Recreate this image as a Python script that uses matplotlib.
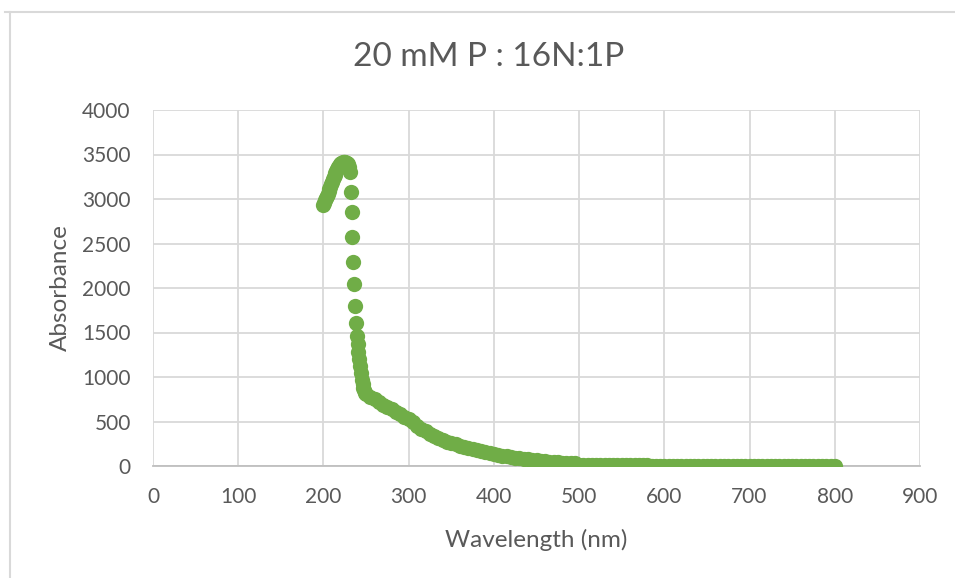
import numpy as np
import matplotlib.pyplot as plt
from matplotlib.lines import Line2D

# wavelength (nm) and absorbance
wl_peak = [200, 201, 202, 203, 204, 205, 206, 207, 208, 209, 210, 211, 212, 213, 214,
           215, 216, 217, 218, 219, 220, 221, 222, 223, 224, 225, 226, 227, 228, 229,
           230, 231, 232, 233, 234, 235, 236, 237, 238, 239, 240, 241, 242, 243, 244,
           245, 246, 247, 248, 249]
abs_peak = [2930, 2955, 2985, 3010, 3035, 3060, 3085, 3110, 3140, 3170, 3195, 3220, 3245,
            3270, 3295, 3320, 3340, 3360, 3375, 3385, 3395, 3405, 3410, 3415, 3415, 3415,
            3410, 3405, 3400, 3390, 3360, 3300, 3080, 2850, 2570, 2290, 2050, 1800, 1610,
            1465, 1370, 1280, 1200, 1120, 1040, 970, 920, 880, 850, 825]

wl_tail = [250, 255, 260, 265, 270, 275, 280, 285, 290, 295, 300, 305, 310, 315, 320,
           325, 330, 335, 340, 345, 350, 355, 360, 365, 370, 375, 380, 385, 390, 395,
           400, 405, 410, 415, 420, 425, 430, 435, 440, 445, 450, 455, 460, 465, 470,
           475, 480, 485, 490, 495, 500, 505, 510, 515, 520, 525, 530, 535, 540, 545,
           550, 555, 560, 565, 570, 575, 580, 585, 590, 595, 600, 605, 610, 615, 620,
           625, 630, 635, 640, 645, 650, 655, 660, 665, 670, 675, 680, 685, 690, 695,
           700, 705, 710, 715, 720, 725, 730, 735, 740, 745, 750, 755, 760, 765, 770,
           775, 780, 785, 790, 795, 800]
abs_tail = [810, 780, 750, 715, 690, 663, 635, 605, 580, 555, 525, 490, 455, 420, 395,
            365, 337, 315, 295, 275, 258, 243, 230, 215, 200, 187, 175, 163, 152, 142,
            133, 124, 115, 107, 100, 94, 88, 82, 77, 72, 66, 60, 55, 50, 46,
            42, 38, 35, 32, 29, 12, 11, 11, 10, 10, 10, 9, 9, 9, 8,
            8, 8, 8, 7, 7, 7, 7, 3, 3, 3, 3, 3, 3, 3, 3,
            2, 2, 2, 2, 2, 2, 2, 2, 2, 2, 2, 2, 2, 2, 2,
            2, 2, 2, 2, 2, 1, 1, 1, 1, 1, 1, 1, 1, 1, 1,
            1, 1, 1, 1, 1, 1]

wl = np.array(wl_peak + wl_tail)
absorb = np.array(abs_peak + abs_tail)

x_ticks = [0, 100, 200, 300, 400, 500, 600, 700, 800, 900]
y_ticks = [0, 500, 1000, 1500, 2000, 2500, 3000, 3500, 4000]

txt = '#595959'
grid = '#d9d9d9'
green = '#70ad47'
plt.rcParams['font.family'] = ['Lato', 'DejaVu Sans']

fig = plt.figure(figsize=(9.55, 5.78), dpi=100)
ax = fig.add_axes([153 / 955, 1 - 466 / 578, 767 / 955, 356 / 578])

ax.plot(wl, absorb, 'o', color=green, markersize=11, markeredgewidth=0, zorder=3)

ax.set_xlim(0, 900)
ax.set_ylim(0, 4000)
ax.set_xticks(x_ticks)
ax.set_yticks(y_ticks)
ax.grid(True, color=grid, linewidth=1.3)
ax.set_axisbelow(True)
for s in ['top', 'right', 'left']:
    ax.spines[s].set_visible(False)
ax.spines['bottom'].set_color('#bfbfbf')
ax.spines['bottom'].set_linewidth(1.3)
ax.tick_params(length=0, labelsize=15, colors=txt)
ax.tick_params(axis='y', pad=16)
ax.tick_params(axis='x', pad=15)

ax.set_xlabel('Wavelength (nm)', fontsize=17.5, color=txt)
ax.set_ylabel('Absorbance', fontsize=17.5, color=txt)
ax.xaxis.set_label_coords(0.5, -0.177)
ax.yaxis.set_label_coords(-0.107, 0.5)

fig.text(0.5115, 1 - 57 / 578, '20 mM P : 16N:1P', fontsize=24, color=txt,
         ha='center', va='center')

# chart frame
fig.add_artist(Line2D([5 / 955, 1], [1 - 12 / 578, 1 - 12 / 578], color=grid, lw=1.5))
fig.add_artist(Line2D([10 / 955, 10 / 955], [0, 1 - 12 / 578], color=grid, lw=1.5))

fig.savefig('out.png', dpi=100)
